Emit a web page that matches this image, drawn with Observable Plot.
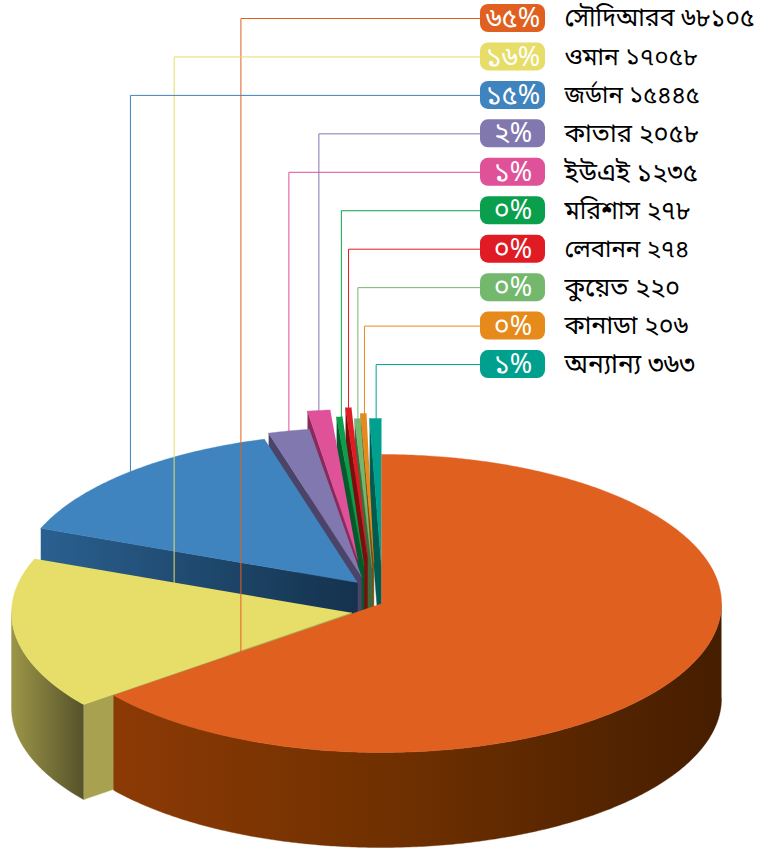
<!DOCTYPE html>
<html><head><meta charset="utf-8">
<script src="https://cdn.jsdelivr.net/npm/d3@7"></script>
<script src="https://cdn.jsdelivr.net/npm/@observablehq/plot@0.6"></script>
<style>html,body{margin:0;padding:0;background:#fff}svg{display:block}</style>
</head><body><div id="chart"></div>
<script>
const countries = ["সৌদিআরব ৬৮১০৫","ওমান ১৭০৫৮","জর্ডান ১৫৪৪৫","কাতার ২০৫৮","ইউএই ১২৩৫","মরিশাস ২৭৮","লেবানন ২৭৪","কুয়েত ২২০","কানাডা ২০৬","অন্যান্য ৩৬৩"];
const values = [68105,17058,15445,2058,1235,278,274,220,206,363];
const percents = ["৬৫%","১৬%","১৫%","২%","১%","০%","০%","০%","০%","১%"];
const colors = ["#E06020","#E6DE68","#3F83BF","#8278B0","#DF5198","#0A9F4C","#E01B24","#74B86E","#E68A1C","#00A08E"];
const wallColors = ["url(#wOrange)","#a8a250","url(#wBlue)","#4b4468","#8a2a5c","#055a2b","#7c0e0e","#3f6a3d","#7f4c10","#005c50"];
const labelSizes = [24.9,24.5,23.9,25.5,26,24.8,24,25.5,25,26.4];

// layout of the 3-D projection
const rx = 340, ry = 149, depth = 95;
const apexes = [[381,603],[351,612.3],[357,582],[361,576],[357,558],[363.6,565],[367,556],[371.6,567],[373.4,562],[381,567]];
const startNudge = [0,-1,0,0,.35,-.05,-.06,-.25,-.3,-.76]; // degrees: thin slices are drawn slightly wider than their share
const endNudge = [-1,0,0,0,0,0,0,0,0,0];
const rowY = i => 18 + i * 38.45;
const leaderTarget = [0,1,2,4,3,5,6,7,8,9];     // wedge each leader lands on
const leaderSpan = [1,1,.507,.5,.5,.8,.5,.55,.65,.55]; // where along the wedge
const leaderRad = [.525,.56,1,1,1,1,1,1,1,1];

const total = d3.sum(values);
const rad = d => d * Math.PI / 180;
const cum = d3.cumsum(values).map(v => v / total * 2 * Math.PI);
const ends = cum.map((e,i) => e + rad(endNudge[i]));
const starts = cum.map((e,i) => (i ? cum[i-1] : 0) + rad(startNudge[i]));
const pt = (i,a,r=1,dz=0) => ({x: apexes[i][0] + r*rx*Math.sin(a), y: apexes[i][1] - r*ry*Math.cos(a) + dz});
const arc = (i,a0,a1,dz=0) => {const n = Math.max(2,Math.ceil(Math.abs(a1-a0)/0.01)); return d3.range(n+1).map(k => pt(i,a0+(a1-a0)*k/n,1,dz));};
const face = (pts,fill) => Plot.line(pts,{x:"x",y:"y",fill,stroke:fill,strokeWidth:0.4});

const faces = [];
for (const i of [9,8,7,6,5,4,3,2,1,0]) {
  const a0 = starts[i], a1 = ends[i], A = {x:apexes[i][0],y:apexes[i][1]};
  if (i === 0) {
    faces.push(face([...arc(0,Math.PI/2,a1), ...arc(0,a1,Math.PI/2,depth)],"url(#wOrange)"));
  } else if (i === 1) {
    faces.push(face([pt(1,a0),A,{x:A.x,y:A.y+depth},pt(1,a0,1,depth)],wallColors[1]));
    faces.push(face([...arc(1,a0,3*Math.PI/2),...arc(1,3*Math.PI/2,a0,depth)],"url(#wYellow)"));
  } else {
    faces.push(face([pt(i,a0),A,{x:A.x,y:A.y+depth},pt(i,a0,1,depth)], wallColors[i]));
  }
  faces.push(face([A,...arc(i,a0,a1)],colors[i]));
}

const defs = () => {
  const d = d3.create("svg:defs");
  const g = (id,stops) => {const l = d.append("linearGradient").attr("id",id);
    stops.forEach(([o,c]) => l.append("stop").attr("offset",o).attr("stop-color",c));};
  g("wOrange",[[0,"#8c3a05"],[.5,"#6d2f00"],[1,"#451d00"]]);
  g("wBlue",[[0,"#2a6090"],[1,"#14324d"]]);
  g("wYellow",[[0,"#9c9648"],[1,"#56522a"]]);
  return d.node();
};

const rows = countries.map((c,i) => ({c,p:percents[i],color:colors[i],y:rowY(i),size:labelSizes[i]}));
const leaders = rows.map((r,i) => {
  const t = leaderTarget[i], a = starts[t] + (ends[t]-starts[t])*leaderSpan[i];
  const e = pt(t,a,leaderRad[i]);
  return [{x:480,y:r.y,i},{x:e.x,y:r.y,i},{x:e.x,y:e.y,i}];
}).flat();

const font = "'Noto Sans Bengali','Noto Serif Bengali','Lohit Bengali','FreeSans','Noto Sans',sans-serif";
const chart = Plot.plot({
  width:760,height:848,margin:0,
  x:{type:"identity",axis:null},y:{type:"identity",axis:null},color:{type:"identity"},
  style:{background:"#fff",overflow:"visible"},
  marks:[
    defs,
    ...faces,
    Plot.line(leaders,{x:"x",y:"y",z:"i",stroke:d=>colors[d.i],strokeWidth:1}),
    Plot.rect(rows,{x1:()=>480,x2:()=>545,y1:d=>d.y-14,y2:d=>d.y+14,rx:8,fill:"color"}),
    Plot.text(rows,{x:()=>512.5,y:"y",text:"p",fill:"white",fontSize:27,fontFamily:font}),
    Plot.text(rows,{x:()=>564,y:"y",text:"c",fill:"black",textAnchor:"start",fontSize:"size",fontFamily:font})
  ]
});
document.getElementById("chart").append(chart);
</script></body></html>
